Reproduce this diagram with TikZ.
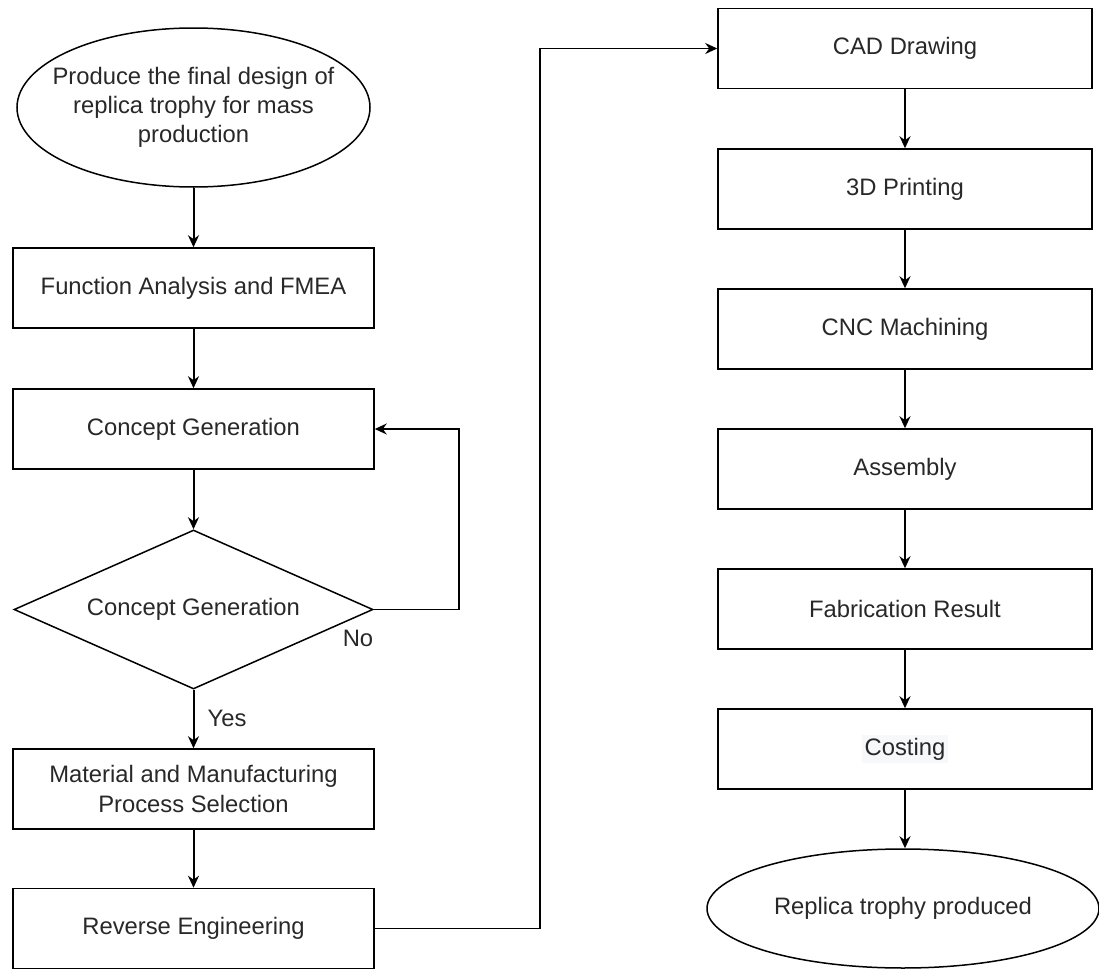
\documentclass[tikz,border=0pt]{standalone}
\usepackage{fontspec}
\setmainfont{Liberation Sans}
\usetikzlibrary{shapes.geometric, arrows.meta}
\definecolor{inkgrey}{RGB}{40,40,40}
\definecolor{marker}{RGB}{246,248,250}
\tikzstyle{every node}=[font=\fontsize{11.9}{14.6}\selectfont, text=inkgrey]
\tikzstyle{stepbox}=[draw=black, line width=0.75pt, rectangle, minimum width=180.5pt, minimum height=40pt, inner sep=0pt, align=center]
\tikzstyle{rightbox}=[stepbox, minimum width=187pt]
\tikzstyle{terminal}=[draw=black, line width=0.75pt, ellipse, inner sep=0pt]
\tikzstyle{decision}=[draw=black, line width=0.75pt, diamond, minimum width=179.5pt, minimum height=79.5pt, inner sep=0pt]
\tikzstyle{flow}=[-{Stealth[length=6pt, width=5.5pt]}, line width=1pt]
\tikzstyle{thinflow}=[flow, line width=0.75pt]

\begin{document}
\begin{tikzpicture}[x=0.5pt, y=-0.5pt]
\useasboundingbox (0,0) rectangle (1099,969);
% Left column
    \node[terminal, minimum width=176.5pt, minimum height=79.5pt,
          label={[align=center]center:Produce the final design of\\replica trophy for mass\\production}] (goal) at (193.5,107.5) {};
    \node[stepbox] (fmea) at (193.5,288) {Function Analysis and FMEA};
    \node[stepbox] (concept) at (193.5,429) {Concept Generation};
    \node[decision, label={center:Concept Generation}] (check) at (193.5,609.5) {};
    \node[stepbox] (material) at (193.5,789) {Material and Manufacturing\\Process Selection};
    \node[stepbox] (reverse) at (193.5,928.5) {Reverse Engineering};
    \node (no) at (358,638) {No};
    \node (yes) at (227,718) {Yes};
    \coordinate (loop) at (459,609.5);
    \coordinate (jump) at (540,928.5);

% Right column
    \node[rightbox] (cad) at (905,48.5) {CAD Drawing};
    \node[rightbox] (print) at (905,189) {3D Printing};
    \node[rightbox] (cnc) at (905,329) {CNC Machining};
    \node[rightbox] (assembly) at (905,469) {Assembly};
    \node[rightbox] (fabrication) at (905,609) {Fabrication Result};
    \node[rightbox] (costing) at (905,749) {\setlength{\fboxsep}{1.5pt}\colorbox{marker}{Costing}};
    \node[terminal, minimum width=196pt, minimum height=59.5pt,
          label={center:Replica trophy produced}] (replica) at (903,908.5) {};

% Arrows
    \draw[flow] (goal) -- (fmea);
    \draw[flow] (fmea) -- (concept);
    \draw[flow] (concept) -- (check);
    \draw[flow] (check) -- (material);
    \draw[flow] (material) -- (reverse);
    \draw[thinflow] (check.east) -- (loop) |- (concept.east);
    \draw[thinflow] (reverse.east) -- (jump) |- (cad.west);
    \draw[thinflow] (cad) -- (print);
    \draw[thinflow] (print) -- (cnc);
    \draw[thinflow] (cnc) -- (assembly);
    \draw[thinflow] (assembly) -- (fabrication);
    \draw[thinflow] (fabrication) -- (costing);
    \draw[thinflow] (costing) -- (costing |- replica.north);

\end{tikzpicture}
\end{document}
